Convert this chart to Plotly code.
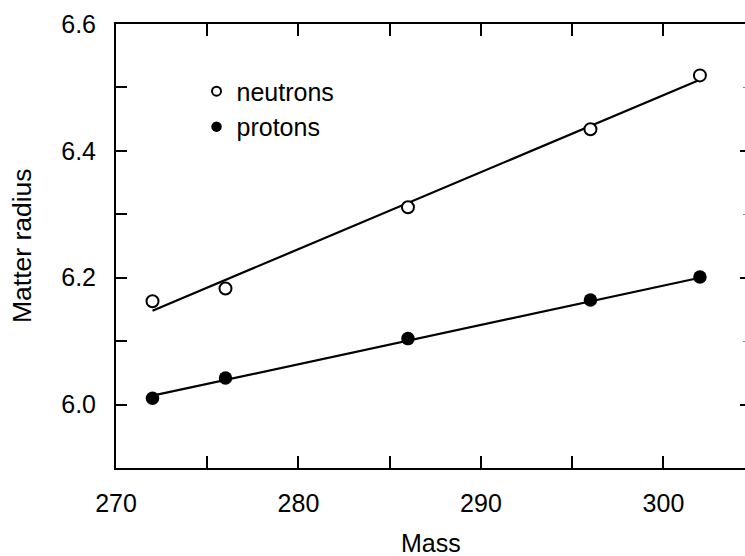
import plotly.graph_objects as go

# Data
mass = [272, 276, 286, 296, 302]
neutrons = [6.163, 6.183, 6.311, 6.434, 6.519]
protons = [6.010, 6.042, 6.104, 6.165, 6.201]

fit_mass = [272, 302]
neutron_fit = [6.148, 6.512]
proton_fit = [6.014, 6.200]

x_range = [270, 304.47]
y_range = [5.9, 6.6]

FONT = "Liberation Sans"

fig = go.Figure()

# fitted lines
fig.add_trace(go.Scatter(x=fit_mass, y=neutron_fit, mode="lines",
                         line=dict(color="black", width=2.2), showlegend=False))
fig.add_trace(go.Scatter(x=fit_mass, y=proton_fit, mode="lines",
                         line=dict(color="black", width=2.2), showlegend=False))

# data points
fig.add_trace(go.Scatter(x=mass, y=neutrons, mode="markers", showlegend=False,
                         marker=dict(symbol="circle", size=12, color="white",
                                     line=dict(color="black", width=2))))
fig.add_trace(go.Scatter(x=mass, y=protons, mode="markers", showlegend=False,
                         marker=dict(symbol="circle", size=13.5, color="black",
                                     line=dict(color="black", width=0))))

# legend keys
fig.add_trace(go.Scatter(x=[None], y=[None], mode="markers", name="neutrons",
                         marker=dict(symbol="circle", size=9, color="white",
                                     line=dict(color="black", width=2))))
fig.add_trace(go.Scatter(x=[None], y=[None], mode="markers", name="protons",
                         marker=dict(symbol="circle", size=10.5, color="black",
                                     line=dict(color="black", width=0))))

axis_common = dict(showgrid=False, zeroline=False, linecolor="black", linewidth=2,
                   tickcolor="black", tickwidth=2, automargin=False)

fig.update_layout(
    width=745, height=556,
    margin=dict(l=116, r=0, t=24, b=88),
    paper_bgcolor="white", plot_bgcolor="white",
    font=dict(family=FONT, size=25, color="black"),
    showlegend=True,
    legend=dict(x=0.128, y=0.9, xanchor="left", yanchor="top",
                bgcolor="rgba(0,0,0,0)", font=dict(size=25, family=FONT),
                itemwidth=30, tracegroupgap=0),
    xaxis=dict(range=x_range, showline=True, ticks="inside", ticklen=12,
               tick0=270, dtick=10, ticklabelstandoff=12,
               minor=dict(dtick=5, ticks="inside", ticklen=12, tickwidth=1.5, tickcolor="black"),
               tickfont=dict(size=25),
               **axis_common),
    yaxis=dict(range=y_range, showline=True, ticks="inside", ticklen=11,
               tick0=6.0, dtick=0.2, tickformat=".1f", ticklabelstandoff=13,
               minor=dict(dtick=0.1, ticks="inside", ticklen=11, tickwidth=1.5, tickcolor="black"),
               tickfont=dict(size=25),
               **axis_common),
    xaxis2=dict(range=x_range, overlaying="x", side="top", showline=True,
                ticks="inside", ticklen=12, tick0=270, dtick=5,
                showticklabels=False, **axis_common),
    yaxis2=dict(range=y_range, overlaying="y", side="right", showline=False,
                ticks="inside", ticklen=5, tick0=6.0, dtick=0.2,
                showticklabels=False, automargin=False,
                minor=dict(dtick=0.1, ticks="inside", ticklen=2, tickwidth=1, tickcolor="#888"),
                showgrid=False, zeroline=False, tickcolor="black", tickwidth=2),
    annotations=[
        dict(text="Mass", xref="paper", yref="paper", x=0.5, y=-0.168,
             xanchor="center", yanchor="middle", showarrow=False,
             font=dict(size=25, family=FONT, color="black")),
        dict(text="Matter radius", xref="paper", yref="paper", x=-0.1494, y=0.5,
             xanchor="center", yanchor="middle", textangle=-90, showarrow=False,
             font=dict(size=26.5, family=FONT, color="black")),
    ],
)

# attach invisible trace so secondary axes are drawn
fig.add_trace(go.Scatter(x=[None], y=[None], xaxis="x2", yaxis="y2",
                         showlegend=False, hoverinfo="skip"))

fig.write_html("out.html")
